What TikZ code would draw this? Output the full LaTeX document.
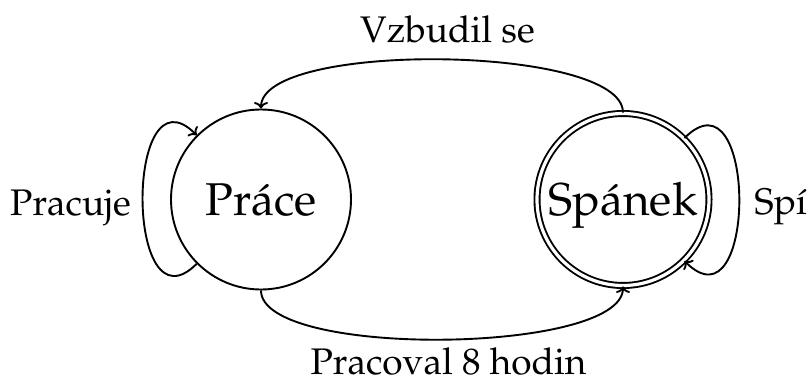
\documentclass[tikz,border=0pt]{standalone}
\usepackage[T1]{fontenc}
\usepackage{mathpazo}
\usetikzlibrary{arrows.meta}
\tikzset{
  stateA/.style={circle, draw, line width=1.9pt, minimum size=180pt, inner sep=0pt,
    font=\fontsize{46}{50}\selectfont, text height=32pt, text depth=0pt},
  acc/.style={stateA, double, double distance=3.2pt, minimum size=172pt},
  lbl/.style={font=\fontsize{37}{40}\selectfont, anchor=base, inner sep=0pt},
  tr/.style={line width=1.9pt, -{To[length=6.5pt,width=14pt]}},
}
\begin{document}
\begin{tikzpicture}[x=1pt,y=1pt]
\useasboundingbox (0,0) rectangle (808,381);
\node[stateA] (P) at (261,181.5) {Pr\'ace};
\node[acc] (S) at (623,181.5) {Sp\'anek};
\node[lbl] (lt) at (447.5,338.3) {Vzbudil se};
\node[lbl] (lb) at (448.5,7) {Pracoval 8 hodin};
\node[lbl] (ll) at (70.5,165.3) {Pracuje};
\node[lbl] (lr) at (780.5,166.5) {Sp\'{\i}};
\draw[tr] (S.90) to[out=90,in=90,looseness=0.48] (P.90);
\draw[tr] (P.270) to[out=-90,in=-90,looseness=0.48] (S.270);
\draw[tr] (P.225) to[out=225,in=135,looseness=2.03] (P.135);
\draw[tr] (S.45) to[out=45,in=-45,looseness=2.15] (S.-45);
\end{tikzpicture}
\end{document}
